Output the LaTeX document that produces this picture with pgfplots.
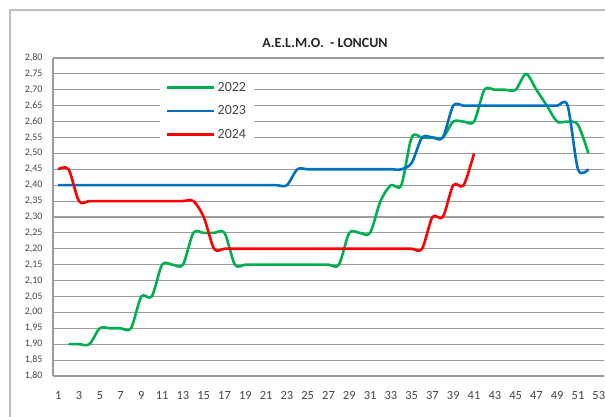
\documentclass[border=0pt]{standalone}
\usepackage{fontspec}
\setmainfont{Carlito}
\usepackage{pgfplots}
\pgfplotsset{compat=1.18}

\definecolor{g22}{RGB}{0,176,80}
\definecolor{b23}{RGB}{0,112,192}
\definecolor{r24}{RGB}{255,0,0}
\definecolor{gridc}{RGB}{155,155,155}
\definecolor{framec}{RGB}{190,190,190}
\definecolor{txt}{RGB}{70,70,70}

\begin{document}
\begin{tikzpicture}
\path[use as bounding box] (0bp,0bp) rectangle (605bp,417bp);
\draw[framec, line width=1.2bp] (10bp,-20bp) rectangle (640bp,407bp);
\begin{axis}[
    at={(53bp,41bp)}, anchor=south west,
    scale only axis, width=551bp, height=318bp,
    xmin=0.5, xmax=53.5, ymin=1.8, ymax=2.8,
    xtick={1,3,...,53},
    ytick={1.80,1.85,1.90,1.95,2.00,2.05,2.10,2.15,2.20,2.25,2.30,2.35,2.40,2.45,2.50,2.55,2.60,2.65,2.70,2.75,2.80},
    xticklabel={\pgfmathprintnumber[int detect,assume math mode=true]{\tick}},
    yticklabel={\pgfmathprintnumber[fixed,fixed zerofill,precision=2,use comma,assume math mode=true]{\tick}},
    ymajorgrids,
    major grid style={gridc, line width=1.1bp},
    axis x line=bottom, axis y line=left,
    axis line style={gridc, line width=1.1bp, -},
    major tick length=0pt,
    tick label style={text=txt},
    xticklabel style={font=\fontsize{12.5}{14}\selectfont, yshift=-12bp},
    yticklabel style={font=\fontsize{10}{12}\selectfont, xshift=-7bp},
    legend style={at={(0.194,0.947)}, anchor=north west, draw=none, fill=white,
        font=\fontsize{14}{16}\selectfont, text=txt, row sep=9bp,
        inner xsep=6bp, inner ysep=5bp},
    legend cell align=left,
    legend image code/.code={\draw[#1] (0bp,0bp) -- (47bp,0bp);},
    every axis plot/.append style={smooth, tension=0.5, line width=2.6bp},
]
% 2022
\addplot[g22] coordinates {
    (2,1.90) (3,1.90) (4,1.90) (5,1.95) (6,1.95) (7,1.95) (8,1.95) (9,2.05)
    (10,2.05) (11,2.15) (12,2.15) (13,2.15) (14,2.25) (15,2.25) (16,2.25) (17,2.25)
    (18,2.15) (19,2.15) (20,2.15) (21,2.15) (22,2.15) (23,2.15) (24,2.15) (25,2.15)
    (26,2.15) (27,2.15) (28,2.15) (29,2.25) (30,2.25) (31,2.25) (32,2.35) (33,2.40)
    (34,2.40) (35,2.55) (36,2.55) (37,2.55) (38,2.55) (39,2.60) (40,2.60) (41,2.60)
    (42,2.70) (43,2.70) (44,2.70) (45,2.70) (46,2.75) (47,2.70) (48,2.65) (49,2.60)
    (50,2.60) (51,2.59) (52,2.50)
};
\addlegendentry{2022}
% 2023
\addplot[b23] coordinates {
    (1,2.40) (2,2.40) (3,2.40) (4,2.40) (5,2.40) (6,2.40) (7,2.40) (8,2.40)
    (9,2.40) (10,2.40) (11,2.40) (12,2.40) (13,2.40) (14,2.40) (15,2.40) (16,2.40)
    (17,2.40) (18,2.40) (19,2.40) (20,2.40) (21,2.40) (22,2.40) (23,2.40) (24,2.45)
    (25,2.45) (26,2.45) (27,2.45) (28,2.45) (29,2.45) (30,2.45) (31,2.45) (32,2.45)
    (33,2.45) (34,2.45) (35,2.47) (36,2.55) (37,2.55) (38,2.55) (39,2.65) (40,2.65)
    (41,2.65) (42,2.65) (43,2.65) (44,2.65) (45,2.65) (46,2.65) (47,2.65) (48,2.65)
    (49,2.65) (50,2.65) (51,2.45) (52,2.45)
};
\addlegendentry{2023}
% 2024
\addplot[r24] coordinates {
    (1,2.45) (2,2.45) (3,2.35) (4,2.35) (5,2.35) (6,2.35) (7,2.35) (8,2.35)
    (9,2.35) (10,2.35) (11,2.35) (12,2.35) (13,2.35) (14,2.35) (15,2.30) (16,2.20)
    (17,2.20) (18,2.20) (19,2.20) (20,2.20) (21,2.20) (22,2.20) (23,2.20) (24,2.20)
    (25,2.20) (26,2.20) (27,2.20) (28,2.20) (29,2.20) (30,2.20) (31,2.20) (32,2.20)
    (33,2.20) (34,2.20) (35,2.20) (36,2.20) (37,2.30) (38,2.30) (39,2.40) (40,2.40)
    (41,2.50)
};
\addlegendentry{2024}
\end{axis}
\node[font=\bfseries\fontsize{14}{16}\selectfont, text=black!85] at (325bp,374bp) {A.E.L.M.O.~~- LONCUN};
\end{tikzpicture}
\end{document}
